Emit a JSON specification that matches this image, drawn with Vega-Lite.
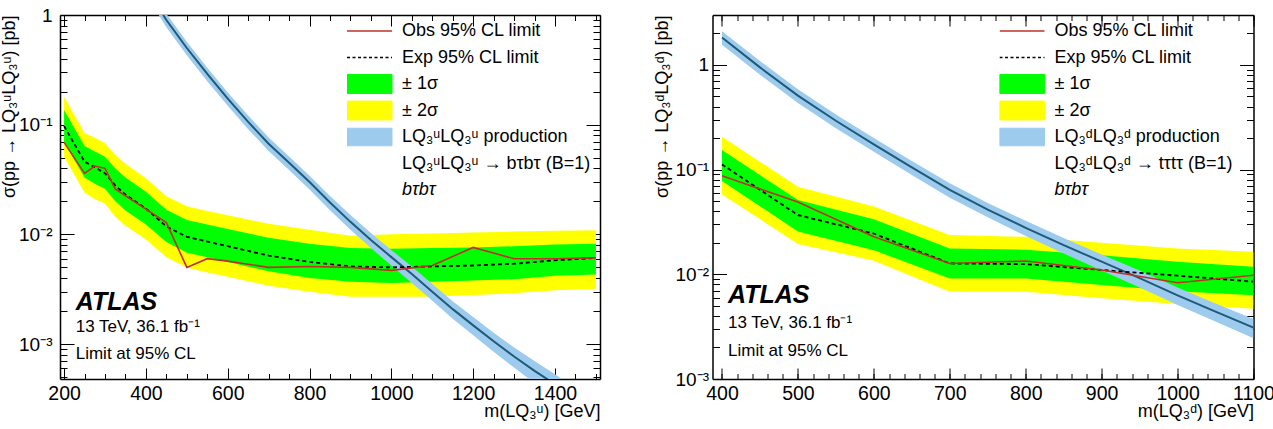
{
  "$schema": "https://vega.github.io/schema/vega-lite/v6.json",
  "background": "white",
  "padding": {"left": 0, "top": 6, "right": 0, "bottom": 0},
  "autosize": {"type": "pad"},
  "config": {
    "font": "Liberation Sans",
    "view": {"stroke": null},
    "axis": {"labelFont": "Liberation Sans", "titleFont": "Liberation Sans", "labelColor": "black", "titleColor": "black", "tickColor": "black", "domainColor": "black", "grid": false, "titleFontWeight": "normal", "labelFlush": false, "labelOverlap": false}
  },
  "datasets": {
    "lq_u_limits": [
      {"m": 200, "obs": 0.069, "exp": 0.097, "m2": 0.051, "m1": 0.069, "p1": 0.136, "p2": 0.180},
      {"m": 250, "obs": 0.036, "exp": 0.046, "m2": 0.024, "m1": 0.033, "p1": 0.064, "p2": 0.084},
      {"m": 275, "obs": 0.042, "exp": 0.041, "m2": 0.021, "m1": 0.029, "p1": 0.057, "p2": 0.076},
      {"m": 300, "obs": 0.040, "exp": 0.036, "m2": 0.019, "m1": 0.026, "p1": 0.051, "p2": 0.068},
      {"m": 325, "obs": 0.026, "exp": 0.028, "m2": 0.0145, "m1": 0.020, "p1": 0.040, "p2": 0.053},
      {"m": 350, "obs": 0.0225, "exp": 0.023, "m2": 0.012, "m1": 0.0165, "p1": 0.033, "p2": 0.044},
      {"m": 400, "obs": 0.017, "exp": 0.0172, "m2": 0.0090, "m1": 0.0123, "p1": 0.0245, "p2": 0.0325},
      {"m": 450, "obs": 0.0128, "exp": 0.0118, "m2": 0.0062, "m1": 0.0085, "p1": 0.0168, "p2": 0.0223},
      {"m": 500, "obs": 0.0050, "exp": 0.0095, "m2": 0.0050, "m1": 0.0068, "p1": 0.0135, "p2": 0.0180},
      {"m": 550, "obs": 0.0060, "exp": 0.0086, "m2": 0.0045, "m1": 0.0062, "p1": 0.0123, "p2": 0.0163},
      {"m": 600, "obs": 0.0057, "exp": 0.0078, "m2": 0.0041, "m1": 0.0056, "p1": 0.0112, "p2": 0.0149},
      {"m": 700, "obs": 0.0050, "exp": 0.0064, "m2": 0.0034, "m1": 0.0046, "p1": 0.0093, "p2": 0.0125},
      {"m": 800, "obs": 0.0051, "exp": 0.0056, "m2": 0.0030, "m1": 0.0040, "p1": 0.0082, "p2": 0.0110},
      {"m": 900, "obs": 0.0050, "exp": 0.0051, "m2": 0.0027, "m1": 0.0037, "p1": 0.0075, "p2": 0.0097},
      {"m": 1000, "obs": 0.0047, "exp": 0.0050, "m2": 0.0027, "m1": 0.0036, "p1": 0.0074, "p2": 0.0100},
      {"m": 1100, "obs": 0.0052, "exp": 0.0051, "m2": 0.0027, "m1": 0.0037, "p1": 0.0075, "p2": 0.0102},
      {"m": 1200, "obs": 0.0076, "exp": 0.0052, "m2": 0.0028, "m1": 0.0038, "p1": 0.0076, "p2": 0.0104},
      {"m": 1300, "obs": 0.0060, "exp": 0.0054, "m2": 0.0029, "m1": 0.0039, "p1": 0.0078, "p2": 0.0106},
      {"m": 1400, "obs": 0.0060, "exp": 0.0058, "m2": 0.0031, "m1": 0.0042, "p1": 0.0081, "p2": 0.0108},
      {"m": 1500, "obs": 0.0061, "exp": 0.0061, "m2": 0.0032, "m1": 0.0043, "p1": 0.0082, "p2": 0.0109}
    ],
    "lq_u_theory": [
      {"m": 400, "xs": 1.80, "lo": 1.55, "hi": 2.05},
      {"m": 450, "xs": 0.90, "lo": 0.774, "hi": 1.026},
      {"m": 500, "xs": 0.50, "lo": 0.430, "hi": 0.570},
      {"m": 550, "xs": 0.290, "lo": 0.249, "hi": 0.331},
      {"m": 600, "xs": 0.173, "lo": 0.149, "hi": 0.197},
      {"m": 650, "xs": 0.106, "lo": 0.091, "hi": 0.121},
      {"m": 700, "xs": 0.067, "lo": 0.0576, "hi": 0.0764},
      {"m": 750, "xs": 0.045, "lo": 0.0387, "hi": 0.0513},
      {"m": 800, "xs": 0.030, "lo": 0.0257, "hi": 0.0342},
      {"m": 850, "xs": 0.0195, "lo": 0.0166, "hi": 0.0224},
      {"m": 900, "xs": 0.0130, "lo": 0.0110, "hi": 0.0150},
      {"m": 950, "xs": 0.0089, "lo": 0.0075, "hi": 0.0103},
      {"m": 1000, "xs": 0.0062, "lo": 0.0052, "hi": 0.0072},
      {"m": 1050, "xs": 0.00435, "lo": 0.00361, "hi": 0.00509},
      {"m": 1100, "xs": 0.0030, "lo": 0.00248, "hi": 0.00352},
      {"m": 1150, "xs": 0.00208, "lo": 0.0017, "hi": 0.00245},
      {"m": 1200, "xs": 0.00148, "lo": 0.0012, "hi": 0.00176},
      {"m": 1250, "xs": 0.00106, "lo": 0.00085, "hi": 0.00127},
      {"m": 1300, "xs": 0.00077, "lo": 0.00061, "hi": 0.00093},
      {"m": 1350, "xs": 0.00057, "lo": 0.00044, "hi": 0.00070},
      {"m": 1400, "xs": 0.00043, "lo": 0.000331, "hi": 0.000529},
      {"m": 1450, "xs": 0.00032, "lo": 0.000243, "hi": 0.000397},
      {"m": 1500, "xs": 0.00024, "lo": 0.00018, "hi": 0.0003}
    ],
    "lq_d_limits": [
      {"m": 400, "obs": 0.0875, "exp": 0.112, "m2": 0.058, "m1": 0.078, "p1": 0.154, "p2": 0.206},
      {"m": 500, "obs": 0.049, "exp": 0.0368, "m2": 0.0195, "m1": 0.0256, "p1": 0.0512, "p2": 0.0687},
      {"m": 600, "obs": 0.0229, "exp": 0.0245, "m2": 0.0135, "m1": 0.0170, "p1": 0.0335, "p2": 0.0445},
      {"m": 700, "obs": 0.0127, "exp": 0.0127, "m2": 0.0068, "m1": 0.0091, "p1": 0.0176, "p2": 0.0237},
      {"m": 800, "obs": 0.0134, "exp": 0.0125, "m2": 0.0068, "m1": 0.0091, "p1": 0.0172, "p2": 0.0228},
      {"m": 900, "obs": 0.0110, "exp": 0.0110, "m2": 0.0059, "m1": 0.0079, "p1": 0.0152, "p2": 0.0200},
      {"m": 1000, "obs": 0.0083, "exp": 0.0097, "m2": 0.0052, "m1": 0.0069, "p1": 0.0132, "p2": 0.0176},
      {"m": 1100, "obs": 0.0098, "exp": 0.0085, "m2": 0.0047, "m1": 0.0063, "p1": 0.0118, "p2": 0.0164}
    ],
    "lq_d_theory": [
      {"m": 400, "xs": 1.83, "lo": 1.56, "hi": 2.10},
      {"m": 450, "xs": 0.948, "lo": 0.806, "hi": 1.09},
      {"m": 500, "xs": 0.510, "lo": 0.434, "hi": 0.587},
      {"m": 550, "xs": 0.293, "lo": 0.249, "hi": 0.337},
      {"m": 600, "xs": 0.174, "lo": 0.148, "hi": 0.200},
      {"m": 650, "xs": 0.105, "lo": 0.089, "hi": 0.121},
      {"m": 700, "xs": 0.064, "lo": 0.054, "hi": 0.074},
      {"m": 750, "xs": 0.0415, "lo": 0.035, "hi": 0.048},
      {"m": 800, "xs": 0.0278, "lo": 0.0232, "hi": 0.0324},
      {"m": 850, "xs": 0.0190, "lo": 0.0158, "hi": 0.0222},
      {"m": 900, "xs": 0.0132, "lo": 0.0109, "hi": 0.0155},
      {"m": 950, "xs": 0.0092, "lo": 0.0075, "hi": 0.0109},
      {"m": 1000, "xs": 0.0063, "lo": 0.0051, "hi": 0.0075},
      {"m": 1050, "xs": 0.0044, "lo": 0.00355, "hi": 0.00525},
      {"m": 1100, "xs": 0.0031, "lo": 0.00245, "hi": 0.00375}
    ]
  },
  "spacing": 51.5,
  "resolve": {"scale": {"x": "independent", "y": "independent", "color": "independent"}, "legend": {"color": "independent"}},
  "hconcat": [
    {
      "width": 540,
      "height": 364,
      "resolve": {"axis": {"x": "independent", "y": "independent"}},
      "layer": [
        {
          "data": {"name": "lq_u_limits"},
          "mark": {"type": "area", "clip": true},
          "encoding": {
            "x": {"field": "m", "type": "quantitative", "scale": {"domain": [190, 1510], "nice": false, "zero": false},
              "axis": {"orient": "bottom", "values": [200, 400, 600, 800, 1000, 1200, 1400], "format": "d", "tickSize": -11, "labelPadding": 16, "labelFontSize": 19.5, "domainWidth": 1.5, "title": "m(LQ₃ᵘ) [GeV]", "titleAnchor": "end", "titleFontSize": 18, "titlePadding": 0}},
            "y": {"field": "p2", "type": "quantitative", "scale": {"type": "log", "domain": [0.00048, 1], "nice": false},
              "axis": {"orient": "left", "values": [0.001, 0.01, 0.1, 1], "tickSize": -14, "labelPadding": 22, "labelFontSize": 19, "labelExpr": "datum.value >= 0.9 ? '1' : datum.value >= 0.09 ? '10⁻¹' : datum.value >= 0.009 ? '10⁻²' : '10⁻³'", "domainWidth": 1.5, "title": "σ(pp → LQ₃ᵘLQ₃ᵘ) [pb]", "titleAnchor": "end", "titleFontSize": 18, "titlePadding": 0}},
            "y2": {"field": "m2"},
            "color": {"datum": "± 2σ", "type": "nominal",
              "scale": {"domain": ["Obs 95% CL limit", "Exp 95% CL limit", "± 1σ", "± 2σ", "LQ₃ᵘLQ₃ᵘ production", "LQ₃ᵘLQ₃ᵘ → bτbτ (B=1)", "bτbτ"], "range": ["#c0302a", "#000000", "#00ff00", "#ffff00", "#9ccbee", "#ffffff", "#ffffff"]},
              "legend": {"orient": "none", "legendX": 287, "legendY": 5, "padding": 0, "title": null, "symbolSize": 2025, "clipHeight": 22, "rowPadding": 4.5, "labelOffset": 10, "labelFontSize": 18, "labelFont": "Liberation Sans", "labelColor": "black", "labelLimit": 400,
                "encode": {
                  "symbols": {"update": {
                    "x": {"value": 22.5},
                    "size": {"value": 2025},
                    "shape": {"signal": "datum.index < 2 ? 'M-1,0H1' : datum.index < 4 ? 'M-1,-0.42H1V0.42H-1Z' : datum.index == 4 ? 'M-1,-0.39H1V0.39H-1Z' : 'M0,0'"},
                    "strokeWidth": {"signal": "datum.index < 2 ? 1.6 : 1"},
                    "strokeDash": {"signal": "datum.index == 1 ? [3, 2.5] : []"},
                    "opacity": {"value": 1},
                    "fillOpacity": {"value": 1},
                    "strokeOpacity": {"value": 1}
                  }},
                  "labels": {"update": {"x": {"value": 55}, "fontStyle": {"signal": "datum.index == 6 ? 'italic' : 'normal'"}}}
                }
              }
            }
          }
        },
        {
          "data": {"name": "lq_u_limits"},
          "mark": {"type": "area", "clip": true},
          "encoding": {
            "x": {"field": "m", "type": "quantitative", "axis": {"orient": "bottom", "values": [200, 250, 300, 350, 400, 450, 500, 550, 600, 650, 700, 750, 800, 850, 900, 950, 1000, 1050, 1100, 1150, 1200, 1250, 1300, 1350, 1400, 1450, 1500], "tickSize": -5.5, "labels": false, "domain": false, "title": null}},
            "y": {"field": "p1", "type": "quantitative", "axis": {"orient": "left", "values": [0.0005, 0.0006, 0.0007, 0.0008, 0.0009, 0.002, 0.003, 0.004, 0.005, 0.006, 0.007, 0.008, 0.009, 0.02, 0.03, 0.04, 0.05, 0.06, 0.07, 0.08, 0.09, 0.2, 0.3, 0.4, 0.5, 0.6, 0.7, 0.8, 0.9], "tickSize": -7, "labels": false, "domain": false, "title": null}},
            "y2": {"field": "m1"},
            "color": {"datum": "± 1σ", "type": "nominal"}
          }
        },
        {
          "data": {"name": "lq_u_theory"},
          "mark": {"type": "area", "clip": true},
          "encoding": {
            "x": {"field": "m", "type": "quantitative", "axis": {"orient": "top", "values": [200, 400, 600, 800, 1000, 1200, 1400], "tickSize": -11, "labels": false, "domainWidth": 1.5, "title": null}},
            "y": {"field": "hi", "type": "quantitative", "axis": {"orient": "right", "values": [0.001, 0.01, 0.1, 1], "tickSize": -14, "labels": false, "domainWidth": 1.5, "title": null}},
            "y2": {"field": "lo"},
            "color": {"datum": "LQ₃ᵘLQ₃ᵘ production", "type": "nominal"}
          }
        },
        {
          "data": {"name": "lq_u_theory"},
          "mark": {"type": "line", "clip": true, "color": "#1f5a78", "strokeWidth": 2},
          "encoding": {
            "x": {"field": "m", "type": "quantitative", "axis": {"orient": "top", "values": [200, 250, 300, 350, 400, 450, 500, 550, 600, 650, 700, 750, 800, 850, 900, 950, 1000, 1050, 1100, 1150, 1200, 1250, 1300, 1350, 1400, 1450, 1500], "tickSize": -5.5, "labels": false, "domain": false, "title": null}},
            "y": {"field": "xs", "type": "quantitative", "axis": {"orient": "right", "values": [0.0005, 0.0006, 0.0007, 0.0008, 0.0009, 0.002, 0.003, 0.004, 0.005, 0.006, 0.007, 0.008, 0.009, 0.02, 0.03, 0.04, 0.05, 0.06, 0.07, 0.08, 0.09, 0.2, 0.3, 0.4, 0.5, 0.6, 0.7, 0.8, 0.9], "tickSize": -7, "labels": false, "domain": false, "title": null}}
          }
        },
        {
          "data": {"name": "lq_u_limits"},
          "mark": {"type": "line", "clip": true, "strokeDash": [4, 3], "strokeWidth": 1.8},
          "encoding": {
            "x": {"field": "m", "type": "quantitative", "axis": null},
            "y": {"field": "exp", "type": "quantitative", "axis": null},
            "color": {"datum": "Exp 95% CL limit", "type": "nominal"}
          }
        },
        {
          "data": {"name": "lq_u_limits"},
          "mark": {"type": "line", "clip": true, "strokeWidth": 1.6},
          "encoding": {
            "x": {"field": "m", "type": "quantitative", "axis": null},
            "y": {"field": "obs", "type": "quantitative", "axis": null},
            "color": {"datum": "Obs 95% CL limit", "type": "nominal"}
          }
        },
        {
          "data": {"values": [{}]},
          "mark": {"type": "text", "align": "left", "baseline": "middle", "font": "Liberation Sans", "fontSize": 25, "fontWeight": "bold", "fontStyle": "italic", "color": "black"},
          "encoding": {
            "x": {"datum": 228.4, "type": "quantitative", "axis": null},
            "y": {"datum": 0.00243, "type": "quantitative", "axis": null},
            "text": {"value": "ATLAS"}
          }
        },
        {
          "data": {"values": [{}]},
          "mark": {"type": "text", "align": "left", "baseline": "middle", "font": "Liberation Sans", "fontSize": 17, "color": "black"},
          "encoding": {
            "x": {"datum": 228.4, "type": "quantitative", "axis": null},
            "y": {"datum": 0.00144, "type": "quantitative", "axis": null},
            "text": {"value": "13 TeV, 36.1 fb⁻¹"}
          }
        },
        {
          "data": {"values": [{}]},
          "mark": {"type": "text", "align": "left", "baseline": "middle", "font": "Liberation Sans", "fontSize": 17, "color": "black"},
          "encoding": {
            "x": {"datum": 228.4, "type": "quantitative", "axis": null},
            "y": {"datum": 0.000817, "type": "quantitative", "axis": null},
            "text": {"value": "Limit at 95% CL"}
          }
        }
      ]
    },
    {
      "width": 541,
      "height": 364,
      "resolve": {"axis": {"x": "independent", "y": "independent"}},
      "layer": [
        {
          "data": {"name": "lq_d_limits"},
          "mark": {"type": "area", "clip": true},
          "encoding": {
            "x": {"field": "m", "type": "quantitative", "scale": {"domain": [387.5, 1100], "nice": false, "zero": false},
              "axis": {"orient": "bottom", "values": [400, 500, 600, 700, 800, 900, 1000, 1100], "format": "d", "tickSize": -11, "labelPadding": 16, "labelFontSize": 19.5, "domainWidth": 1.5, "title": "m(LQ₃ᵈ) [GeV]", "titleAnchor": "end", "titleFontSize": 18, "titlePadding": 0}},
            "y": {"field": "p2", "type": "quantitative", "scale": {"type": "log", "domain": [0.001, 3], "nice": false},
              "axis": {"orient": "left", "values": [0.001, 0.01, 0.1, 1], "tickSize": -14, "labelPadding": 18, "labelFontSize": 19, "labelExpr": "datum.value >= 0.9 ? '1' : datum.value >= 0.09 ? '10⁻¹' : datum.value >= 0.009 ? '10⁻²' : '10⁻³'", "domainWidth": 1.5, "title": "σ(pp → LQ₃ᵈLQ₃ᵈ) [pb]", "titleAnchor": "end", "titleFontSize": 18, "titlePadding": 4}},
            "y2": {"field": "m2"},
            "color": {"datum": "± 2σ", "type": "nominal",
              "scale": {"domain": ["Obs 95% CL limit", "Exp 95% CL limit", "± 1σ", "± 2σ", "LQ₃ᵈLQ₃ᵈ production", "LQ₃ᵈLQ₃ᵈ → tτtτ (B=1)", "bτbτ"], "range": ["#c0302a", "#000000", "#00ff00", "#ffff00", "#9ccbee", "#ffffff", "#ffffff"]},
              "legend": {"orient": "none", "legendX": 287, "legendY": 5, "padding": 0, "title": null, "symbolSize": 2025, "clipHeight": 22, "rowPadding": 4.5, "labelOffset": 10, "labelFontSize": 18, "labelFont": "Liberation Sans", "labelColor": "black", "labelLimit": 400,
                "encode": {
                  "symbols": {"update": {
                    "x": {"value": 22.5},
                    "size": {"value": 2025},
                    "shape": {"signal": "datum.index < 2 ? 'M-1,0H1' : datum.index < 4 ? 'M-1,-0.42H1V0.42H-1Z' : datum.index == 4 ? 'M-1,-0.39H1V0.39H-1Z' : 'M0,0'"},
                    "strokeWidth": {"signal": "datum.index < 2 ? 1.6 : 1"},
                    "strokeDash": {"signal": "datum.index == 1 ? [3, 2.5] : []"},
                    "opacity": {"value": 1},
                    "fillOpacity": {"value": 1},
                    "strokeOpacity": {"value": 1}
                  }},
                  "labels": {"update": {"x": {"value": 55}, "fontStyle": {"signal": "datum.index == 6 ? 'italic' : 'normal'"}}}
                }
              }
            }
          }
        },
        {
          "data": {"name": "lq_d_limits"},
          "mark": {"type": "area", "clip": true},
          "encoding": {
            "x": {"field": "m", "type": "quantitative", "axis": {"orient": "bottom", "values": [400, 420, 440, 460, 480, 500, 520, 540, 560, 580, 600, 620, 640, 660, 680, 700, 720, 740, 760, 780, 800, 820, 840, 860, 880, 900, 920, 940, 960, 980, 1000, 1020, 1040, 1060, 1080, 1100], "tickSize": -5.5, "labels": false, "domain": false, "title": null}},
            "y": {"field": "p1", "type": "quantitative", "axis": {"orient": "left", "values": [0.002, 0.003, 0.004, 0.005, 0.006, 0.007, 0.008, 0.009, 0.02, 0.03, 0.04, 0.05, 0.06, 0.07, 0.08, 0.09, 0.2, 0.3, 0.4, 0.5, 0.6, 0.7, 0.8, 0.9, 2, 3], "tickSize": -7, "labels": false, "domain": false, "title": null}},
            "y2": {"field": "m1"},
            "color": {"datum": "± 1σ", "type": "nominal"}
          }
        },
        {
          "data": {"name": "lq_d_theory"},
          "mark": {"type": "area", "clip": true},
          "encoding": {
            "x": {"field": "m", "type": "quantitative", "axis": {"orient": "top", "values": [400, 500, 600, 700, 800, 900, 1000, 1100], "tickSize": -11, "labels": false, "domainWidth": 1.5, "title": null}},
            "y": {"field": "hi", "type": "quantitative", "axis": {"orient": "right", "values": [0.001, 0.01, 0.1, 1], "tickSize": -14, "labels": false, "domainWidth": 1.5, "title": null}},
            "y2": {"field": "lo"},
            "color": {"datum": "LQ₃ᵈLQ₃ᵈ production", "type": "nominal"}
          }
        },
        {
          "data": {"name": "lq_d_theory"},
          "mark": {"type": "line", "clip": true, "color": "#1f5a78", "strokeWidth": 2},
          "encoding": {
            "x": {"field": "m", "type": "quantitative", "axis": {"orient": "top", "values": [400, 420, 440, 460, 480, 500, 520, 540, 560, 580, 600, 620, 640, 660, 680, 700, 720, 740, 760, 780, 800, 820, 840, 860, 880, 900, 920, 940, 960, 980, 1000, 1020, 1040, 1060, 1080, 1100], "tickSize": -5.5, "labels": false, "domain": false, "title": null}},
            "y": {"field": "xs", "type": "quantitative", "axis": {"orient": "right", "values": [0.002, 0.003, 0.004, 0.005, 0.006, 0.007, 0.008, 0.009, 0.02, 0.03, 0.04, 0.05, 0.06, 0.07, 0.08, 0.09, 0.2, 0.3, 0.4, 0.5, 0.6, 0.7, 0.8, 0.9, 2, 3], "tickSize": -7, "labels": false, "domain": false, "title": null}}
          }
        },
        {
          "data": {"name": "lq_d_limits"},
          "mark": {"type": "line", "clip": true, "strokeDash": [4, 3], "strokeWidth": 1.8},
          "encoding": {
            "x": {"field": "m", "type": "quantitative", "axis": null},
            "y": {"field": "exp", "type": "quantitative", "axis": null},
            "color": {"datum": "Exp 95% CL limit", "type": "nominal"}
          }
        },
        {
          "data": {"name": "lq_d_limits"},
          "mark": {"type": "line", "clip": true, "strokeWidth": 1.6},
          "encoding": {
            "x": {"field": "m", "type": "quantitative", "axis": null},
            "y": {"field": "obs", "type": "quantitative", "axis": null},
            "color": {"datum": "Obs 95% CL limit", "type": "nominal"}
          }
        },
        {
          "data": {"values": [{}]},
          "mark": {"type": "text", "align": "left", "baseline": "middle", "font": "Liberation Sans", "fontSize": 25, "fontWeight": "bold", "fontStyle": "italic", "color": "black"},
          "encoding": {
            "x": {"datum": 407.9, "type": "quantitative", "axis": null},
            "y": {"datum": 0.00635, "type": "quantitative", "axis": null},
            "text": {"value": "ATLAS"}
          }
        },
        {
          "data": {"values": [{}]},
          "mark": {"type": "text", "align": "left", "baseline": "middle", "font": "Liberation Sans", "fontSize": 17, "color": "black"},
          "encoding": {
            "x": {"datum": 407.9, "type": "quantitative", "axis": null},
            "y": {"datum": 0.00345, "type": "quantitative", "axis": null},
            "text": {"value": "13 TeV, 36.1 fb⁻¹"}
          }
        },
        {
          "data": {"values": [{}]},
          "mark": {"type": "text", "align": "left", "baseline": "middle", "font": "Liberation Sans", "fontSize": 17, "color": "black"},
          "encoding": {
            "x": {"datum": 407.9, "type": "quantitative", "axis": null},
            "y": {"datum": 0.00185, "type": "quantitative", "axis": null},
            "text": {"value": "Limit at 95% CL"}
          }
        }
      ]
    }
  ]
}
